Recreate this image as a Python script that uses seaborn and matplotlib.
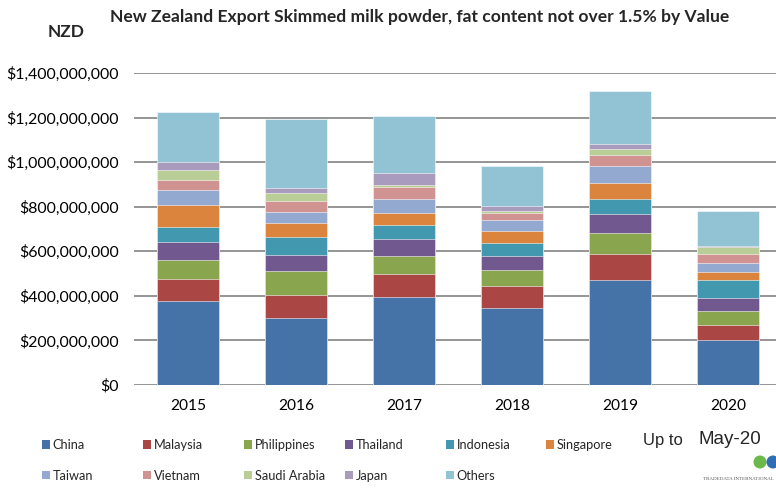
import numpy as np
import pandas as pd
import matplotlib
matplotlib.use("Agg")  # no display
import matplotlib.pyplot as plt
from matplotlib.patches import Patch, Ellipse
from matplotlib.ticker import FuncFormatter, MultipleLocator
import seaborn as sns

# ── Data (NZD millions) ───────────────────────────────────────────────────────
YEARS = ["2015", "2016", "2017", "2018", "2019", "2020"]
COUNTRIES = ["China", "Malaysia", "Philippines", "Thailand", "Indonesia",
             "Singapore", "Taiwan", "Vietnam", "Saudi Arabia", "Japan", "Others"]

CHINA = [377, 301, 395, 347, 470, 200]
MALAYSIA = [100, 101, 103, 99, 118, 67]
PHILIPPINES = [82, 108, 82, 70, 96, 64]
THAILAND = [81, 75, 75, 64, 84, 60]
INDONESIA = [67, 81, 63, 58, 67, 78]
SINGAPORE = [99, 61, 54, 52, 73, 39]
TAIWAN = [69, 49, 61, 51, 74, 39]
VIETNAM = [45, 48, 56, 30, 48, 39]
SAUDI_ARABIA = [46, 39, 10, 9, 29, 33]
JAPAN = [35, 21, 52, 24, 21, 6]
OTHERS = [226, 308, 257, 179, 241, 156]

COLORS = ["#4572A7", "#AA4643", "#89A54E", "#71588F", "#4198AF", "#DB843D",
          "#93A9CF", "#D19392", "#B9CD96", "#A99BBD", "#92C3D4"]

TITLE = "New Zealand Export Skimmed milk powder, fat content not over 1.5% by Value"

FONT = "Lato"
W, H = 776, 488


def build_frame():
    series = [CHINA, MALAYSIA, PHILIPPINES, THAILAND, INDONESIA, SINGAPORE,
              TAIWAN, VIETNAM, SAUDI_ARABIA, JAPAN, OTHERS]
    rows = []
    for country, vals in zip(COUNTRIES, series):
        for year, v in zip(YEARS, vals):
            rows.append({"year": year, "country": country, "value": v * 1e6})
    df = pd.DataFrame(rows)
    df["country"] = pd.Categorical(df["country"], COUNTRIES, ordered=True)
    df = df.sort_values(["year", "country"])
    df["top"] = df.groupby("year")["value"].cumsum()
    return df


def main():
    sns.set_style("white")
    plt.rcParams["font.family"] = [FONT, "DejaVu Sans"]

    df = build_frame()

    fig = plt.figure(figsize=(W / 100, H / 100), dpi=100)
    ax = fig.add_axes([134 / W, 1 - 385 / H, (W - 134) / W, (385 - 73) / H])

    # stacked bars: draw cumulative totals from the top segment down
    for country, color in reversed(list(zip(COUNTRIES, COLORS))):
        sub = df[df["country"] == country]
        sns.barplot(data=sub, x="year", y="top", order=YEARS, color=color,
                    saturation=1, width=0.574, errorbar=None, ax=ax,
                    edgecolor=(1, 1, 1, 0.55), linewidth=0.7, zorder=2)

    ax.set_xlim(-0.5, -0.5 + (W - 134) / 108)
    ax.set_ylim(0, 1.4e9)
    ax.yaxis.set_major_locator(MultipleLocator(2e8))
    ax.yaxis.set_major_formatter(FuncFormatter(lambda v, _: f"${v:,.0f}"))
    ax.grid(axis="y", color="#8c8c8c", linewidth=1.3, zorder=0)
    ax.grid(axis="x", visible=False)
    ax.set_axisbelow(True)
    for s in ax.spines.values():
        s.set_visible(False)
    ax.set_xlabel("")
    ax.set_ylabel("")
    ax.tick_params(axis="y", length=0, pad=11, labelsize=11.4, labelcolor="black")
    ax.tick_params(axis="x", length=0, pad=10, labelsize=11.2, labelcolor="black")

    fig.text(420 / W, 1 - 17 / H, TITLE, ha="center", va="center",
             fontsize=12.6, fontweight="bold")
    fig.text(48 / W, 1 - 32 / H, "NZD", ha="left", va="center",
             fontsize=12.4, fontweight="bold")

    # legend laid out row-wise in six columns
    handles = {c: Patch(facecolor=col, edgecolor="none") for c, col in zip(COUNTRIES, COLORS)}
    columns = [["China", "Taiwan"], ["Malaysia", "Vietnam"],
               ["Philippines", "Saudi Arabia"], ["Thailand", "Japan"],
               ["Indonesia", "Others"], ["Singapore"]]
    col_x = [42, 143, 244, 345, 446, 546]
    for names, x in zip(columns, col_x):
        fig.legend([handles[n] for n in names], names, loc="upper left",
                   bbox_to_anchor=(x / W, 1 - 439 / H), frameon=False,
                   fontsize=9.2, handlelength=0.6, handleheight=0.6,
                   handletextpad=0.25, labelspacing=1.45,
                   borderpad=0, borderaxespad=0)

    fig.text(643 / W, 1 - 440 / H, "Up to", ha="left", va="center",
             fontsize=12, family="Liberation Sans")
    fig.text(699 / W, 1 - 440 / H, "May-20", ha="left", va="center",
             fontsize=13.5, family="Liberation Sans")

    # TradeData logo, roughly
    for cx, col in [(760, "#6cb84a"), (773, "#2f6db5")]:
        fig.patches.append(Ellipse((cx / W, 1 - 462 / H), 13 / W, 13 / H,
                                   transform=fig.transFigure,
                                   facecolor=col, edgecolor="none"))
    fig.text(774 / W, 1 - 479 / H, "TRADEDATA INTERNATIONAL", ha="right", va="center",
             fontsize=3.6, family="Liberation Serif", color="#555555")

    fig.savefig("out.png", dpi=100)
    plt.close(fig)


if __name__ == "__main__":
    main()
